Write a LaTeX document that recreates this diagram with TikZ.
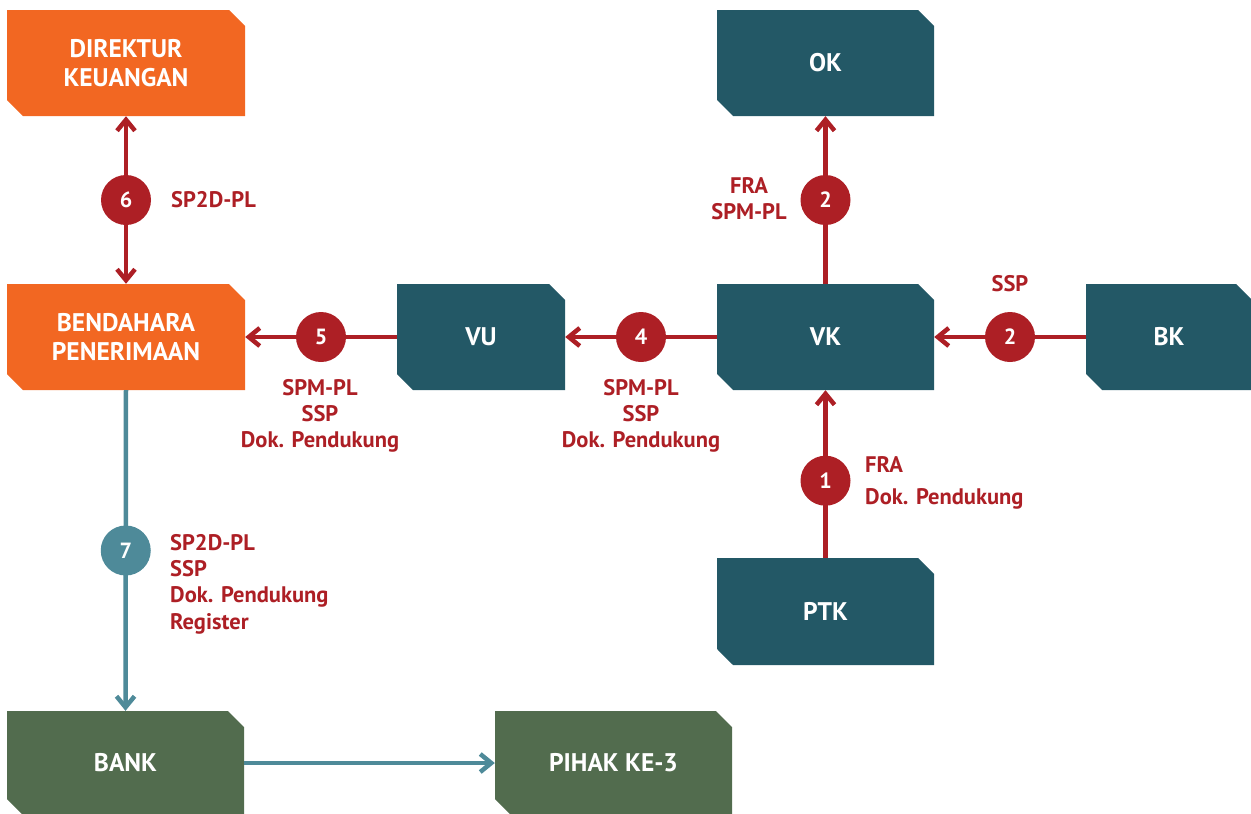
\documentclass[tikz,border=0pt]{standalone}
\usepackage{fontspec}
\setmainfont{PT Sans}
\usetikzlibrary{shapes.misc,arrows.meta}
\definecolor{boxorange}{HTML}{F26722}
\definecolor{boxteal}{HTML}{235866}
\definecolor{boxgreen}{HTML}{526C4E}
\definecolor{flowred}{HTML}{AD1F25}
\definecolor{flowteal}{HTML}{4E8A99}
\tikzset{
  unitbox/.style={chamfered rectangle, chamfered rectangle corners={north east,south west},
    chamfered rectangle xsep=8pt, chamfered rectangle ysep=8pt,
    inner sep=0pt, minimum height=106pt, text=white, align=center,
    font=\fontsize{25.5}{29}\selectfont\bfseries},
  orangebox/.style={unitbox, fill=boxorange},
  tealbox/.style={unitbox, fill=boxteal},
  greenbox/.style={unitbox, fill=boxgreen},
  redflow/.style={draw=flowred, line width=4.5pt, -{Straight Barb[length=11pt,width=18pt]}},
  tealflow/.style={draw=flowteal, line width=4.5pt, -{Straight Barb[length=11pt,width=18pt]}},
  stepnum/.style={circle, fill=flowred, minimum size=50pt, inner sep=0pt, text=white,
    font=\fontsize{22}{22}\selectfont\bfseries},
  doclabel/.style={text=flowred, inner sep=0pt, font=\fontsize{22.5}{26.3}\selectfont\bfseries},
}
\begin{document}
\begin{tikzpicture}[x=1pt,y=-1pt]
\useasboundingbox (0,0) rectangle (1251,814);
% units
\node[orangebox, minimum width=238pt] (dk) at (126,63) {DIREKTUR\\KEUANGAN};
\node[orangebox, minimum width=238pt] (bp) at (126,337) {BENDAHARA\\PENERIMAAN};
\node[tealbox, minimum width=168pt] (vu) at (481,337) {VU};
\node[tealbox, minimum width=217pt] (vk) at (825.5,337) {VK};
\node[tealbox, minimum width=166pt] (bk) at (1169,337) {BK};
\node[tealbox, minimum width=217pt] (ok) at (825.5,63) {OK};
\node[tealbox, minimum width=217pt, minimum height=107pt] (ptk) at (825.5,611.5) {PTK};
\node[greenbox, minimum width=237pt, minimum height=104pt] (bank) at (125.5,763) {BANK};
\node[greenbox, minimum width=237pt, minimum height=104pt] (pihak) at (613.5,763) {PIHAK KE-3};
% document flow
\draw[redflow] (ptk.north) -- node[stepnum, pos=0.46] (s1) {1} (vk.south);
\draw[redflow] (vk.north) -- node[stepnum] (s2a) {2} (ok.south);
\draw[redflow] (bk.west) -- node[stepnum] (s2b) {2} (vk.east);
\draw[redflow] (vk.west) -- node[stepnum] (s4) {4} (vu.east);
\draw[redflow] (vu.west) -- node[stepnum] (s5) {5} (bp.east);
\draw[redflow, {Straight Barb[length=11pt,width=18pt]}-{Straight Barb[length=11pt,width=18pt]}] (bp.north) -- node[stepnum] (s6) {6} (dk.south);
\draw[tealflow] (bp.south) -- node[stepnum, fill=flowteal] (s7) {7} (bank.north);
\draw[tealflow] (bank.east) -- (pihak.west);
% documents carried
\node[doclabel, anchor=west, align=left] (l1) at (865,483) {FRA\\[5pt]Dok. Pendukung};
\node[doclabel, align=center] (l2a) at (749,199) {FRA\\SPM-PL};
\node[doclabel] (l2b) at (1010,284) {SSP};
\node[doclabel, align=center] (l4) at (641,416) {SPM-PL\\SSP\\Dok. Pendukung};
\node[doclabel, align=center] (l5) at (320,416) {SPM-PL\\SSP\\Dok. Pendukung};
\node[doclabel, anchor=west] (l6) at (171,200) {SP2D-PL};
\node[doclabel, anchor=west, align=left] (l7) at (170,584) {SP2D-PL\\SSP\\Dok. Pendukung\\Register};
\end{tikzpicture}
\end{document}
